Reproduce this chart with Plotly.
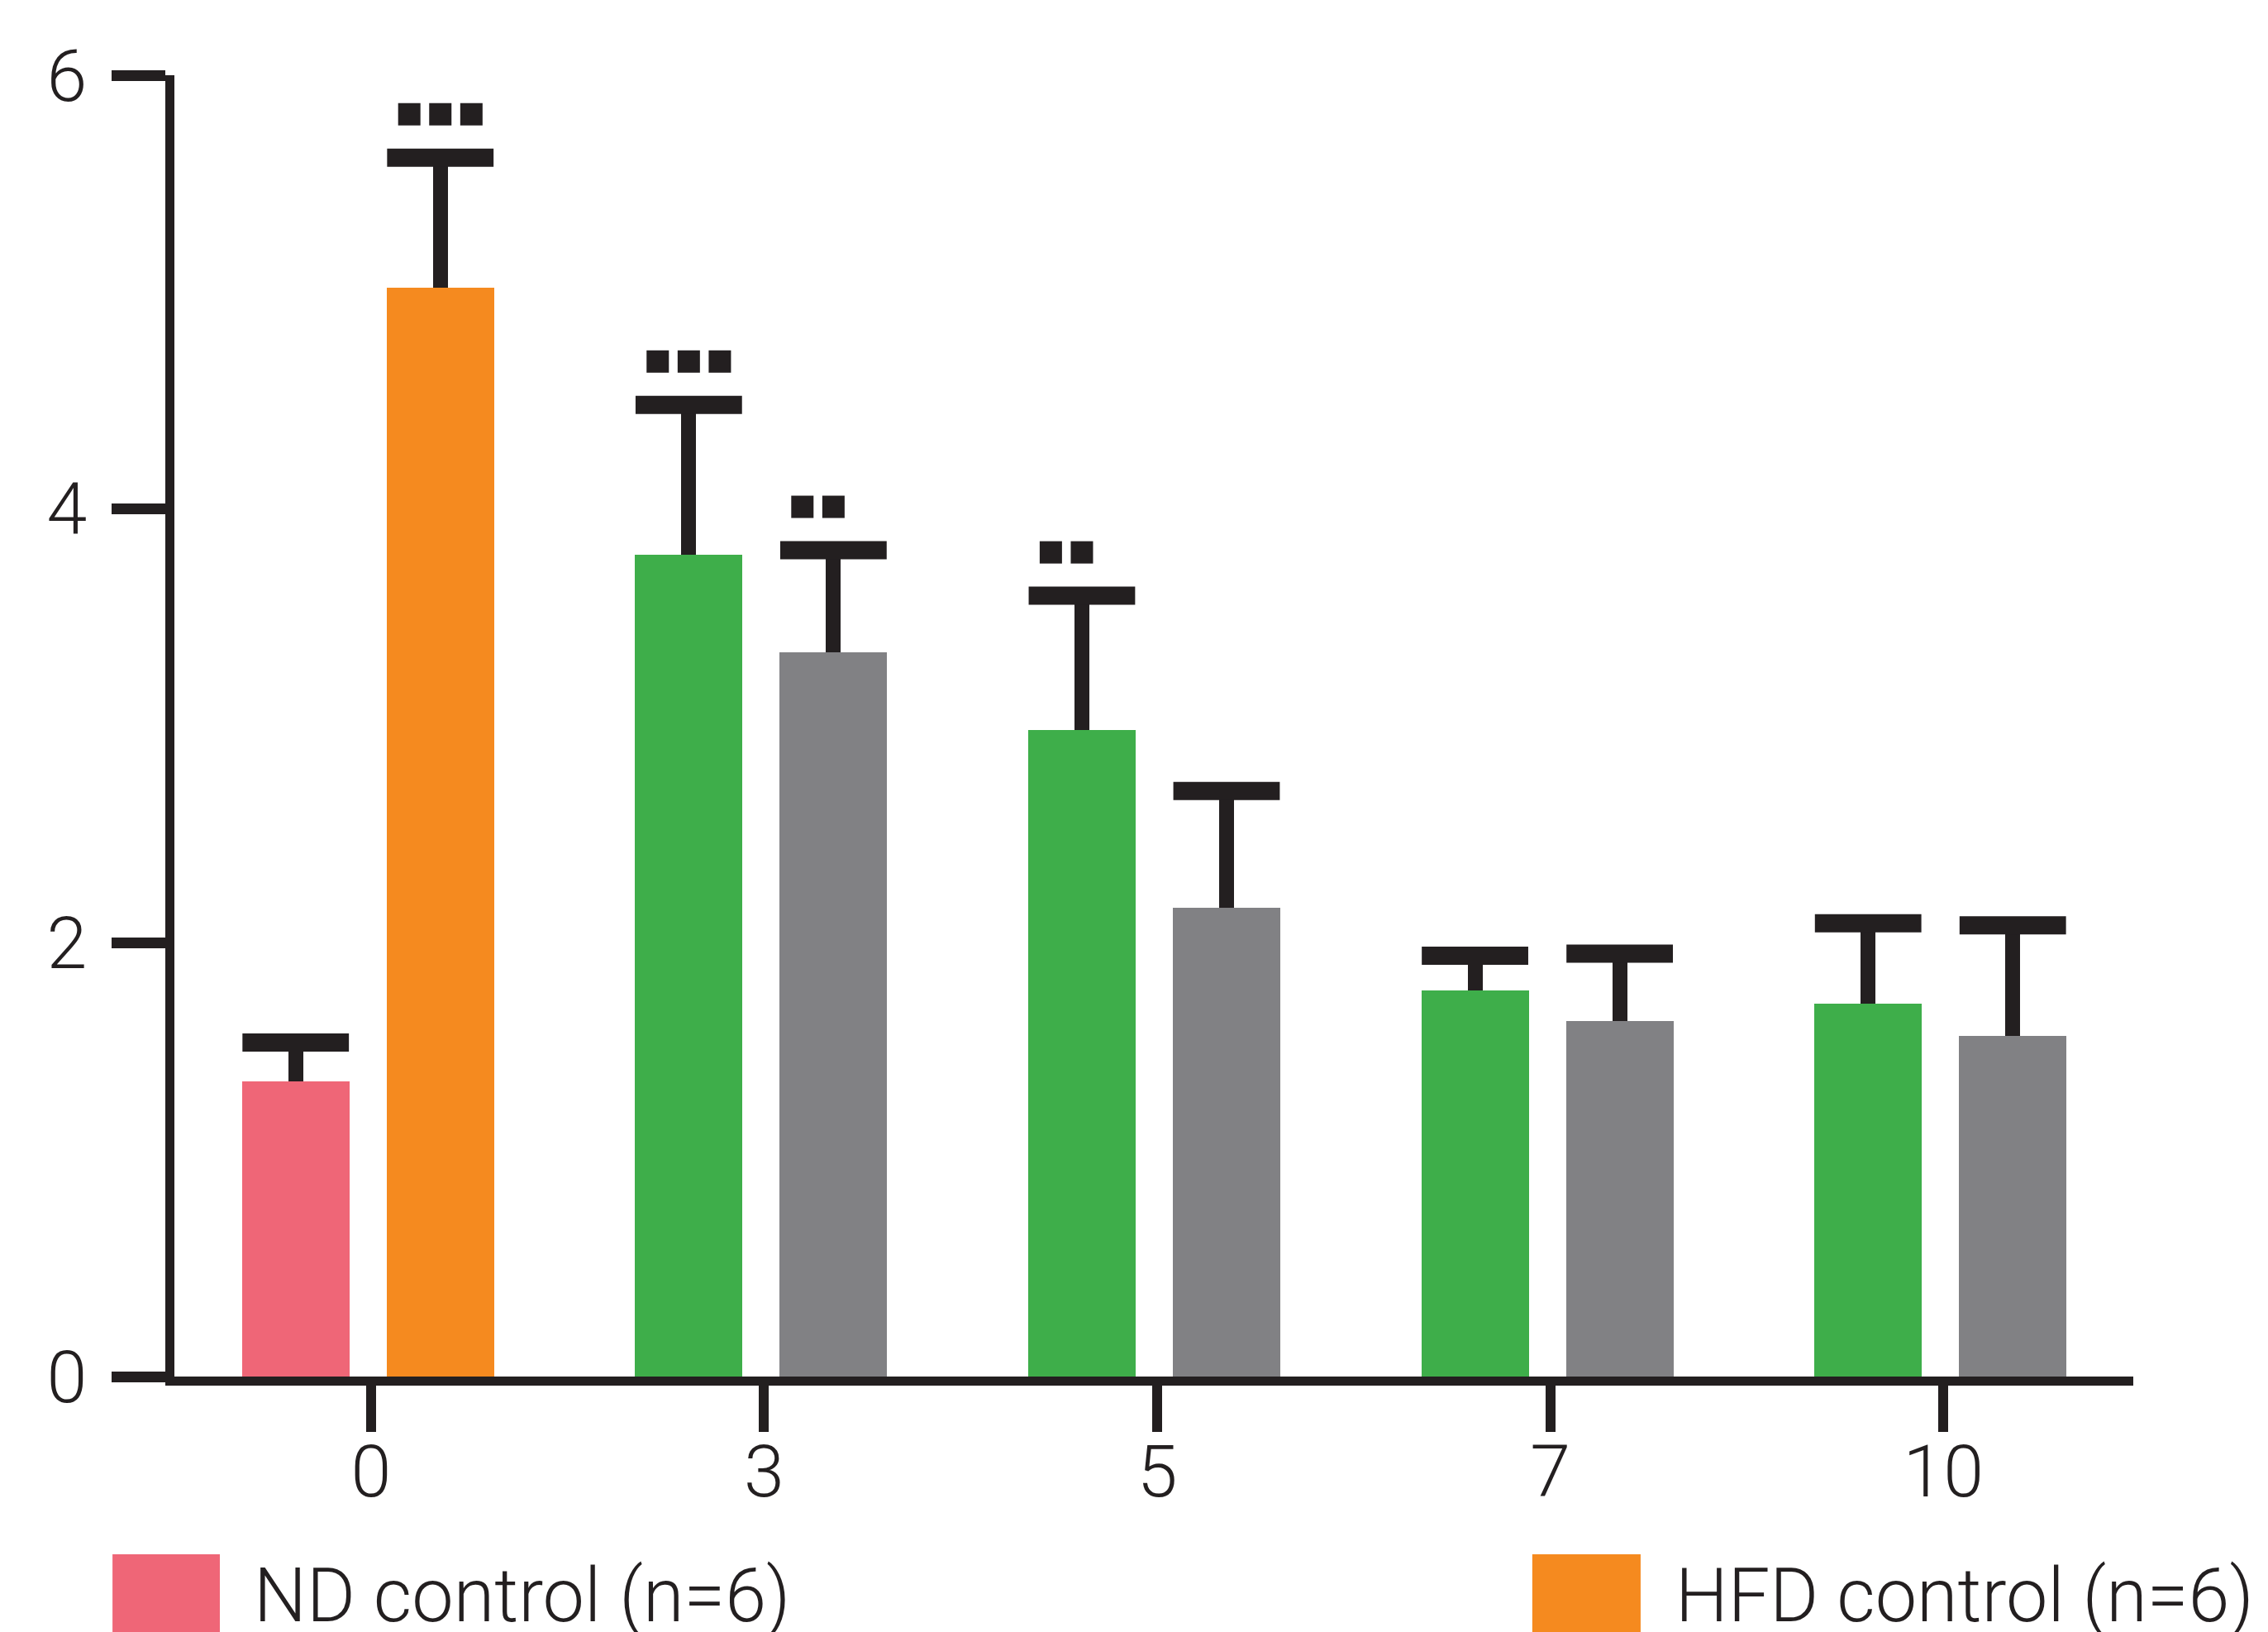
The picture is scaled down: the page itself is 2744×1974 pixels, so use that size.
import plotly.graph_objects as go

# ---- data ----
days = ["0", "3", "5", "7", "10"]
group_pos = [0, 1, 2, 3, 4]

nd_label = "ND control (n=6)"
nd_mean = [1.36]
nd_sem = [0.18]
nd_sig = [0]

hfd_label = "HFD control (n=6)"
hfd_mean = [5.02]
hfd_sem = [0.60]
hfd_sig = [3]

green_label = "Treatment A"
green_days_pos = [1, 2, 3, 4]
green_mean = [3.79, 2.98, 1.78, 1.72]
green_sem = [0.69, 0.62, 0.16, 0.37]
green_sig = [3, 2, 0, 0]

gray_label = "Treatment B"
gray_days_pos = [1, 2, 3, 4]
gray_mean = [3.34, 2.16, 1.64, 1.57]
gray_sem = [0.47, 0.54, 0.31, 0.51]
gray_sig = [2, 0, 0, 0]

y_ticks = [0, 2, 4, 6]

# ---- style ----
PINK = "#EF6677"
ORANGE = "#F58A1F"
GREEN = "#3EAE4A"
GRAY = "#818184"
INK = "#231F20"
FONT = "Roboto"

BAR_W = 0.273
LEFT_OFF = -0.328
RIGHT_OFF = 0.040
STAR_GAP = 0.2
STAR_STEP = 0.079

fig = go.Figure()


def add_series(name, xs, means, sems, sigs, color, offset):
    fig.add_trace(go.Bar(
        name=name, x=xs, y=means, width=BAR_W, offset=offset,
        marker=dict(color=color, line=dict(width=0)),
        error_y=dict(type="data", array=sems, arrayminus=[0] * len(sems),
                     symmetric=False, color=INK, thickness=18, width=0),
        showlegend=False,
    ))
    centers = [x + offset + BAR_W / 2 for x in xs]
    tops = [m + s for m, s in zip(means, sems)]
    # error-bar caps
    fig.add_trace(go.Scatter(
        x=centers, y=tops, mode="markers", showlegend=False, hoverinfo="skip",
        marker=dict(symbol="line-ew", size=92, color=INK,
                    line=dict(color=INK, width=22)),
    ))
    # significance marks
    sx, sy = [], []
    for c, t, n in zip(centers, tops, sigs):
        for k in range(n):
            sx.append(c - STAR_STEP + k * STAR_STEP)
            sy.append(t + STAR_GAP)
    if sx:
        fig.add_trace(go.Scatter(
            x=sx, y=sy, mode="markers", showlegend=False, hoverinfo="skip",
            marker=dict(symbol="square", size=27, color=INK, line=dict(width=0)),
        ))


add_series(nd_label, [group_pos[0]], nd_mean, nd_sem, nd_sig, PINK, LEFT_OFF)
add_series(hfd_label, [group_pos[0]], hfd_mean, hfd_sem, hfd_sig, ORANGE, RIGHT_OFF)
add_series(green_label, green_days_pos, green_mean, green_sem, green_sig, GREEN, LEFT_OFF)
add_series(gray_label, gray_days_pos, gray_mean, gray_sem, gray_sig, GRAY, RIGHT_OFF)

# ---- custom legend (swatches + labels) below the axis ----
legend_items = [
    (nd_label, PINK, -0.0316, 0.0232, 0.0397),
    (hfd_label, ORANGE, 0.6932, 0.7485, 0.7654),
]
for label, color, x0, x1, tx in legend_items:
    fig.add_shape(type="rect", xref="paper", yref="paper",
                  x0=x0, x1=x1, y0=-0.21, y1=-0.1366,
                  fillcolor=color, line=dict(width=0))
    fig.add_annotation(xref="paper", yref="paper", x=tx, y=-0.1684,
                       xanchor="left", yanchor="middle", showarrow=False,
                       text=label,
                       font=dict(family=FONT, size=90, color=INK, weight=300))

fig.update_layout(
    width=2744, height=1974,
    margin=dict(l=203, r=171, t=83, b=317),
    paper_bgcolor="white", plot_bgcolor="white",
    font=dict(family=FONT, color=INK, size=88, weight=300),
    barmode="overlay",
    bargap=0,
)
fig.update_xaxes(
    range=[-0.5, 4.483], tickvals=group_pos, ticktext=days,
    showline=True, linecolor=INK, linewidth=11,
    ticks="outside", ticklen=56, tickwidth=12, tickcolor=INK,
    showgrid=False, zeroline=False,
    tickfont=dict(family=FONT, size=88, color=INK, weight=300),
    ticklabelstandoff=-28,
)
fig.update_yaxes(
    range=[0, 6], tickvals=y_ticks, ticktext=[str(v) for v in y_ticks],
    showline=True, linecolor=INK, linewidth=11,
    ticks="outside", ticklen=65, tickwidth=13, tickcolor=INK,
    showgrid=False, zeroline=False,
    tickfont=dict(family=FONT, size=88, color=INK, weight=300),
    ticklabelstandoff=12,
)

fig.write_html("out.html")
